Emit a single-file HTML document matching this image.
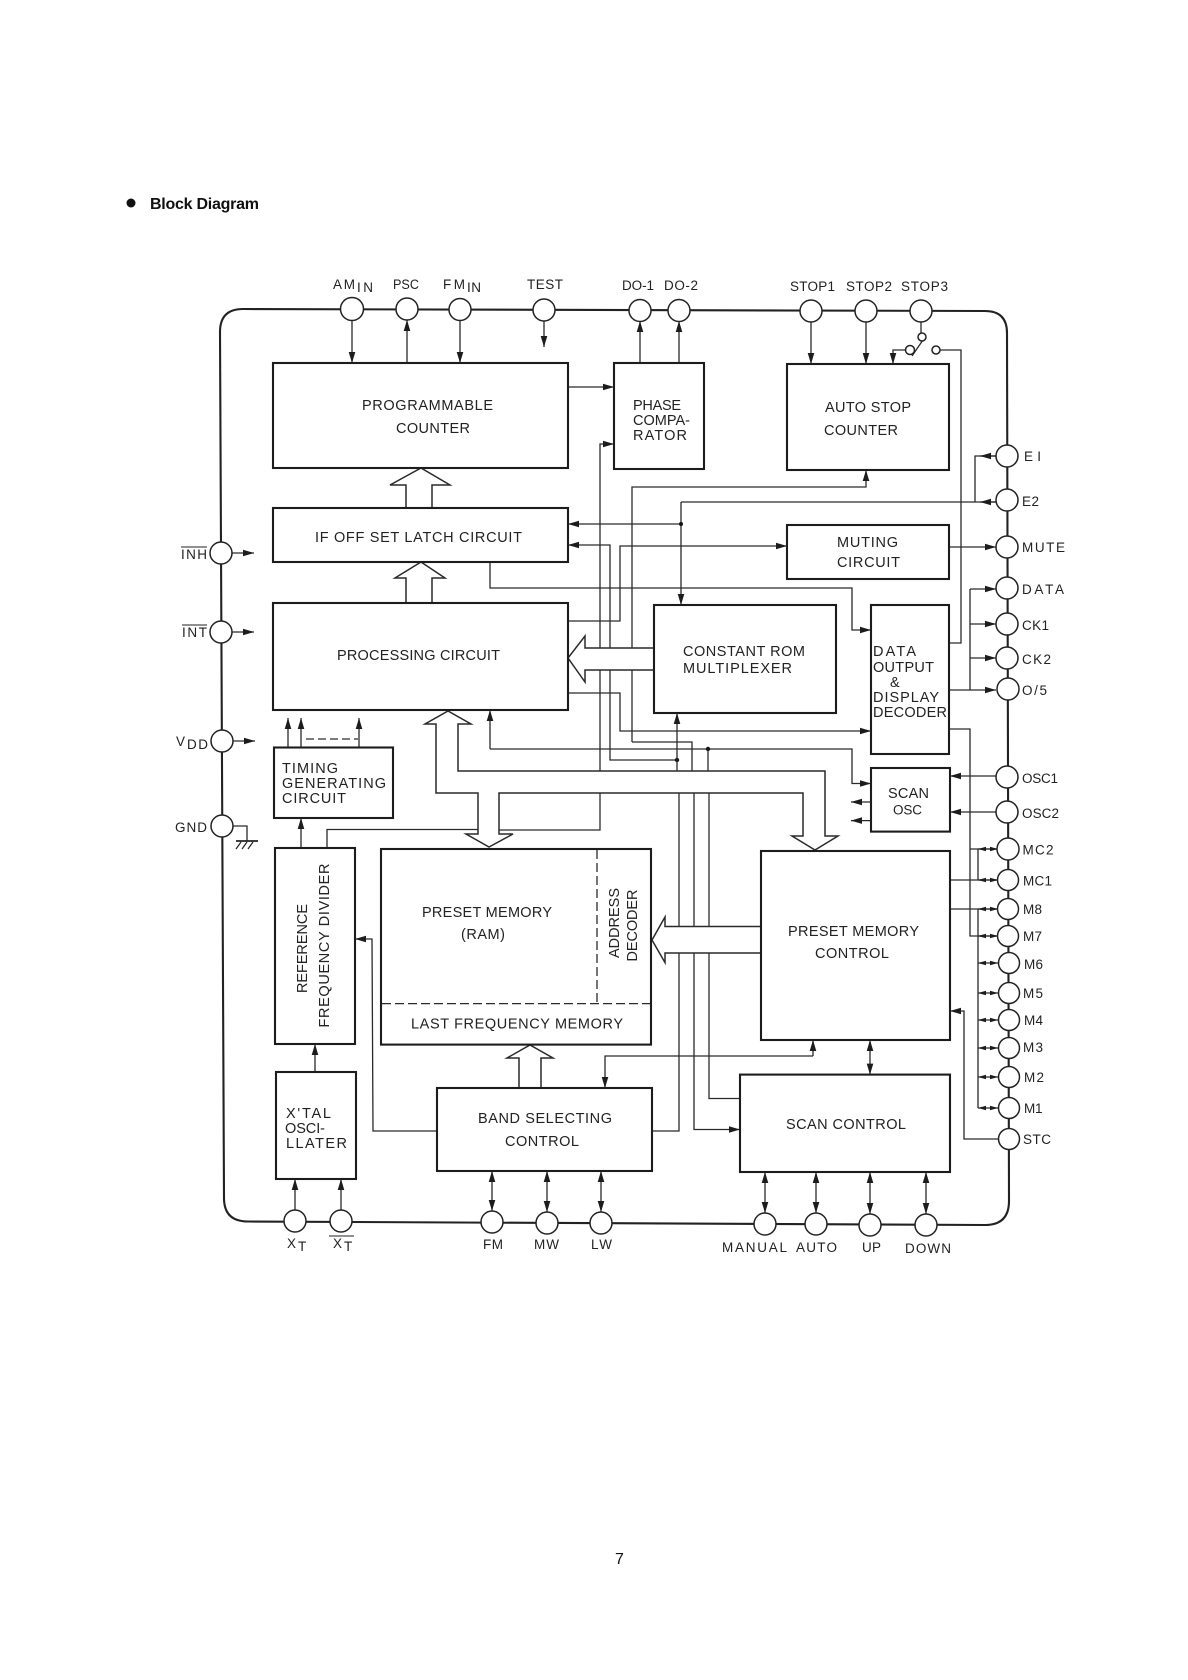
<!DOCTYPE html>
<html><head><meta charset="utf-8"><style>
html,body{margin:0;padding:0;background:#fff}
svg{display:block}
text{font-family:"Liberation Sans",sans-serif;font-size:14.5px;fill:#222}
text.s{font-size:13.5px}
.w{fill:none;stroke:#2a2a2a;stroke-width:1.3}
.a{fill:none;stroke:#2a2a2a;stroke-width:1.3;marker-end:url(#h)}
.d{fill:none;stroke:#2a2a2a;stroke-width:1.3;marker-end:url(#h);marker-start:url(#h)}
.m{fill:none;stroke:#2a2a2a;stroke-width:1.3;marker-end:url(#q);marker-start:url(#q)}
.b{fill:#fff;stroke:#1c1c1c;stroke-width:2.1}
.bus{fill:#fff;stroke:#2a2a2a;stroke-width:1.5;stroke-linejoin:miter}
.p{fill:#fff;stroke:#222;stroke-width:1.5}
</style></head><body>
<svg xmlns="http://www.w3.org/2000/svg" width="1188" height="1680" viewBox="0 0 1188 1680">
<defs>
<marker id="h" markerUnits="userSpaceOnUse" viewBox="0 0 11 7" markerWidth="11" markerHeight="7" refX="11" refY="3.5" orient="auto-start-reverse"><path d="M0 0.2L11 3.500L0 6.800Z" fill="#1c1c1c"/></marker>
<marker id="q" markerUnits="userSpaceOnUse" viewBox="0 0 8 5" markerWidth="8" markerHeight="5" refX="8" refY="2.5" orient="auto-start-reverse"><path d="M0 0.2L8 2.500L0 4.800Z" fill="#1c1c1c"/></marker>
</defs>
<rect width="1188" height="1680" fill="#fff"/>
<circle cx="131" cy="203" r="4.5" fill="#111"/>
<text x="150" y="209" textLength="109" lengthAdjust="spacing" style="font-size:16px;font-weight:bold;fill:#111">Block Diagram</text>
<text x="615" y="1564" style="font-size:16px;fill:#111">7</text>

<!-- chip outline -->
<path d="M224 1198L220 332Q220 309 243 309L985 311Q1007 311 1007 333L1009 1201Q1009 1225 985 1225L248 1221.500Q224 1221.500 224 1198Z" fill="none" stroke="#222" stroke-width="2.1"/>

<!-- pin wires top -->
<path class="a" d="M352 320V363"/><path class="a" d="M407 363V320"/><path class="a" d="M460 320V363"/><path class="a" d="M544 321V347"/>
<path class="a" d="M640 363V321"/><path class="a" d="M679 363V321"/><path class="a" d="M811 322V364"/><path class="a" d="M866 322V364"/>
<path class="w" d="M921 322V333"/>
<path class="a" d="M906 350H893V364"/>
<path class="w" d="M923 340L912 356"/>
<path class="w" d="M940 350H961V643H949"/>
<path class="a" d="M568 387H614"/>

<!-- centre wires -->
<path class="a" d="M600 771V444H614"/>
<path class="w" d="M327 848V829.500H480"/>
<path class="w" d="M497 830H600V793"/>
<path class="w" d="M996 502H681"/>
<path class="a" d="M681 502V605"/>
<path class="a" d="M681 524H568"/>
<circle cx="681" cy="524" r="2" fill="#111"/>
<path class="a" d="M632 742V487H866V470"/>
<path class="w" d="M632 742H692V771"/>
<path class="a" d="M694 793V1129.500H740"/>
<path class="a" d="M490 562V588H852V630H871"/>
<path class="a" d="M677 760H610V545H568"/>
<circle cx="677" cy="760" r="2.2" fill="#111"/>
<path class="a" d="M677 771V713"/>
<path class="w" d="M652 1131H679V793"/>
<path class="a" d="M568 621H620V546H787"/>
<path class="a" d="M568 693H620V731H871"/>
<path class="a" d="M490 749H852V783.500H871"/>
<path class="a" d="M490 749V710"/>
<circle cx="708" cy="749" r="2.2" fill="#111"/>
<path class="w" d="M708 749V771"/>
<path class="w" d="M709 793V1098.500H740"/>

<!-- hollow buses -->
<path class="bus" d="M654 648H585V636L568 658L585 682V670H654"/>
<path class="bus" d="M761 926.500H665V917L652 940L665 962.600V953H761"/>
<path class="bus" d="M458 724V771H825V836H838L815 850L792 836H803V793H499V834H513L489 847L466 834H478V793H436V724H425L448 711L471 724Z"/>
<path class="bus" d="M406 508V485H390L421 468L450 485H432V508"/>
<path class="bus" d="M406 603V578H395L421 562L445 578H432V603"/>
<path class="bus" d="M519 1088V1058H507L530 1045L553 1058H541V1088"/>

<!-- other wires -->
<path class="a" d="M315 1072V1044"/><path class="a" d="M301 848V818"/>
<path class="a" d="M288 747V718"/><path class="a" d="M301 747V718"/><path class="a" d="M359 747V718"/>
<path class="w" stroke-dasharray="8 4" d="M306 739H358"/>
<path class="a" d="M295 1210V1179"/><path class="a" d="M341 1210V1179"/>
<path class="d" d="M492 1171V1211"/><path class="d" d="M547 1171V1212"/><path class="d" d="M601 1171V1212"/>
<path class="d" d="M765 1172V1213"/><path class="d" d="M816 1172V1213"/><path class="d" d="M870 1172V1214"/><path class="d" d="M926 1172V1214"/>
<path class="d" d="M870 1040V1074.600"/>
<path class="a" d="M813 1056V1040"/>
<path class="a" d="M813 1056H605V1088"/>
<path class="a" d="M437 1131H373L372 939H355"/>

<!-- right side wiring -->
<path class="w" d="M996 456H975V502"/><path class="a" d="M996 456H980"/><path class="a" d="M996 502H980"/>
<path class="a" d="M949 547H996"/>
<path class="w" d="M970 589V690"/>
<path class="a" d="M970 589H996"/><path class="a" d="M970 624H996"/><path class="a" d="M970 658H996"/><path class="a" d="M949 690H996"/>
<path class="a" d="M996 776H950"/><path class="a" d="M996 812H950"/>
<path class="a" d="M871 802H851"/><path class="a" d="M871 820.600H851"/>
<path class="w" d="M949 729H970V936H998"/>
<path class="w" d="M978 849V880M978 909V1108"/>
<path class="w" d="M970 849H998M950 880H998M950 909H998"/>
<path class="m" d="M978 849H998"/><path class="m" d="M978 880H998"/><path class="m" d="M978 909H998"/><path class="m" d="M978 936H998"/>
<path class="m" d="M978 963H998"/><path class="m" d="M978 993H998"/><path class="m" d="M978 1020H998"/><path class="m" d="M978 1048H998"/><path class="m" d="M978 1077H998"/><path class="m" d="M978 1108H998"/>
<path class="a" d="M998 1139H964V1011H950"/>

<!-- left stubs -->
<path class="a" d="M232 553H254"/><path class="a" d="M232 632H254"/><path class="a" d="M233 741H255"/>
<path class="w" d="M233 826H247V841"/>
<path d="M236 841H258" stroke="#222" stroke-width="1.8" fill="none"/>
<path d="M241 842L236 849M247 842L242 849M253 842L248 849" stroke="#222" stroke-width="1.2" fill="none"/>

<!-- boxes -->
<rect class="b" x="273" y="363" width="295" height="105"/>
<rect class="b" x="273" y="508" width="295" height="54"/>
<rect class="b" x="273" y="603" width="295" height="107"/>
<rect class="b" x="274" y="747.500" width="119" height="70.500"/>
<rect class="b" x="275" y="848" width="80" height="196"/>
<rect class="b" x="276" y="1072" width="80" height="107"/>
<rect class="b" x="381" y="849" width="270" height="195.600"/>
<rect class="b" x="437" y="1088" width="215" height="83"/>
<rect class="b" x="761" y="851" width="189" height="189"/>
<rect class="b" x="740" y="1074.600" width="210" height="97.400"/>
<rect class="b" x="871" y="768" width="79" height="63.600"/>
<rect class="b" x="871" y="605" width="78" height="149"/>
<rect class="b" x="654" y="605" width="182" height="108"/>
<rect class="b" x="787" y="525" width="162" height="54"/>
<rect class="b" x="787" y="364" width="162" height="106"/>
<rect class="b" x="614" y="363" width="90" height="106"/>
<path class="w" stroke-dasharray="9 4" d="M597 850V1003.600M382 1003.600H650"/>

<!-- pins -->
<g class="p">
<circle cx="352" cy="309" r="11.5"/><circle cx="407" cy="309" r="11"/><circle cx="460" cy="309.500" r="11"/><circle cx="544" cy="310" r="11"/>
<circle cx="640" cy="310.500" r="11"/><circle cx="679" cy="310.500" r="11"/><circle cx="811" cy="311" r="11"/><circle cx="866" cy="311" r="11"/><circle cx="921" cy="311" r="11"/>
<circle cx="1007" cy="456" r="11"/><circle cx="1007" cy="500" r="11"/><circle cx="1007" cy="547" r="11"/><circle cx="1007" cy="588" r="11"/><circle cx="1007" cy="624" r="11"/><circle cx="1007" cy="658" r="11"/><circle cx="1008" cy="689" r="11"/>
<circle cx="1007" cy="777" r="11"/><circle cx="1007" cy="812" r="11"/><circle cx="1008" cy="849" r="11"/><circle cx="1008" cy="880" r="10.500"/><circle cx="1008" cy="909" r="10.500"/><circle cx="1008" cy="936" r="10.500"/><circle cx="1009" cy="963" r="10.500"/><circle cx="1009" cy="993" r="10.500"/><circle cx="1009" cy="1020" r="10.500"/><circle cx="1009" cy="1048" r="10.500"/><circle cx="1009" cy="1077" r="10.500"/><circle cx="1009" cy="1108" r="10.500"/><circle cx="1009" cy="1139" r="10.500"/>
<circle cx="295" cy="1221" r="11"/><circle cx="341" cy="1221" r="11"/><circle cx="492" cy="1222" r="11"/><circle cx="547" cy="1223" r="11"/><circle cx="601" cy="1223" r="11"/><circle cx="765" cy="1224" r="11"/><circle cx="816" cy="1224" r="11"/><circle cx="870" cy="1225" r="11"/><circle cx="926" cy="1225" r="11"/>
<circle cx="221" cy="553" r="11"/><circle cx="221" cy="632" r="11"/><circle cx="222" cy="741" r="11"/><circle cx="222" cy="826" r="11"/>
<circle cx="922" cy="337" r="4"/><circle cx="910" cy="350" r="4.500"/><circle cx="936" cy="350" r="4"/>
</g>

<!-- labels -->
<text class="s" x="333" y="289" textLength="22" lengthAdjust="spacing">AM</text><text class="s" x="357" y="292" textLength="16" lengthAdjust="spacing">IN</text>
<text class="s" x="393" y="289" textLength="26" lengthAdjust="spacingAndGlyphs">PSC</text>
<text class="s" x="443" y="289" textLength="22" lengthAdjust="spacing">FM</text><text class="s" x="467" y="292" textLength="14" lengthAdjust="spacing">IN</text>
<text class="s" x="527" y="289" textLength="36" lengthAdjust="spacing">TEST</text>
<text class="s" x="622" y="290" textLength="32" lengthAdjust="spacing">DO-1</text><text class="s" x="664" y="290" textLength="34" lengthAdjust="spacing">DO-2</text>
<text class="s" x="790" y="291" textLength="45" lengthAdjust="spacing">STOP1</text><text class="s" x="846" y="291" textLength="46" lengthAdjust="spacing">STOP2</text><text class="s" x="901" y="291" textLength="47" lengthAdjust="spacing">STOP3</text>

<text x="362" y="410" textLength="131" lengthAdjust="spacing">PROGRAMMABLE</text><text x="396" y="433" textLength="74" lengthAdjust="spacing">COUNTER</text>
<text x="315" y="542" textLength="207" lengthAdjust="spacing">IF OFF SET LATCH CIRCUIT</text>
<text x="337" y="660" textLength="163" lengthAdjust="spacing">PROCESSING CIRCUIT</text>
<text x="633" y="410" textLength="48" lengthAdjust="spacing">PHASE</text><text x="633" y="425" textLength="57" lengthAdjust="spacing">COMPA-</text><text x="633" y="440" textLength="54" lengthAdjust="spacing">RATOR</text>
<text x="825" y="412" textLength="86" lengthAdjust="spacing">AUTO STOP</text><text x="824" y="435" textLength="74" lengthAdjust="spacing">COUNTER</text>
<text x="837" y="547" textLength="61" lengthAdjust="spacing">MUTING</text><text x="837" y="567" textLength="63" lengthAdjust="spacing">CIRCUIT</text>
<text x="683" y="656" textLength="122" lengthAdjust="spacing">CONSTANT ROM</text><text x="683" y="673" textLength="109" lengthAdjust="spacing">MULTIPLEXER</text>
<text x="873" y="656" textLength="43" lengthAdjust="spacing">DATA</text><text x="873" y="672" textLength="61" lengthAdjust="spacing">OUTPUT</text><text x="890" y="687">&amp;</text><text x="873" y="702" textLength="66" lengthAdjust="spacing">DISPLAY</text><text x="873" y="717" textLength="74" lengthAdjust="spacing">DECODER</text>

<text class="s" x="1024" y="461" textLength="17" lengthAdjust="spacing">E I</text><text class="s" x="1022" y="506" textLength="17" lengthAdjust="spacing">E2</text><text class="s" x="1022" y="552" textLength="43" lengthAdjust="spacing">MUTE</text><text class="s" x="1022" y="594" textLength="42" lengthAdjust="spacing">DATA</text><text class="s" x="1022" y="630" textLength="27" lengthAdjust="spacing">CK1</text><text class="s" x="1022" y="664" textLength="29" lengthAdjust="spacing">CK2</text><text class="s" x="1022" y="695" textLength="25" lengthAdjust="spacing">O/5</text>
<text class="s" x="1022" y="783" textLength="36" lengthAdjust="spacing">OSC1</text><text class="s" x="1022" y="818" textLength="37" lengthAdjust="spacing">OSC2</text><text class="s" x="1022.500" y="854.500" textLength="31" lengthAdjust="spacing">MC2</text><text class="s" x="1023" y="885.500" textLength="29" lengthAdjust="spacing">MC1</text><text class="s" x="1023" y="914" textLength="19" lengthAdjust="spacing">M8</text><text class="s" x="1023" y="941" textLength="19" lengthAdjust="spacing">M7</text><text class="s" x="1024" y="969" textLength="19" lengthAdjust="spacing">M6</text><text class="s" x="1023" y="998" textLength="20" lengthAdjust="spacing">M5</text><text class="s" x="1024" y="1025" textLength="19" lengthAdjust="spacing">M4</text><text class="s" x="1023" y="1052" textLength="20" lengthAdjust="spacing">M3</text><text class="s" x="1024" y="1082" textLength="20" lengthAdjust="spacing">M2</text><text class="s" x="1024" y="1113" textLength="18.500" lengthAdjust="spacing">M1</text><text class="s" x="1023" y="1144" textLength="28" lengthAdjust="spacing">STC</text>

<text x="788" y="936" textLength="131" lengthAdjust="spacing">PRESET MEMORY</text><text x="815" y="958" textLength="74" lengthAdjust="spacing">CONTROL</text>
<text x="888" y="798" textLength="41" lengthAdjust="spacing">SCAN</text><text class="s" x="893" y="814.500" textLength="29" lengthAdjust="spacing">OSC</text>
<text x="786" y="1129" textLength="120" lengthAdjust="spacing">SCAN CONTROL</text>
<text class="s" x="722" y="1252" textLength="65" lengthAdjust="spacing">MANUAL</text><text class="s" x="796" y="1252" textLength="41" lengthAdjust="spacing">AUTO</text><text class="s" x="862" y="1252" textLength="19" lengthAdjust="spacing">UP</text><text class="s" x="905" y="1253" textLength="46" lengthAdjust="spacing">DOWN</text>

<text x="282" y="773" textLength="56" lengthAdjust="spacing">TIMING</text><text x="282" y="788" textLength="104" lengthAdjust="spacing">GENERATING</text><text x="282" y="803" textLength="64" lengthAdjust="spacing">CIRCUIT</text>
<text x="307" y="993" textLength="89" lengthAdjust="spacing" transform="rotate(-90 307 993)">REFERENCE</text>
<text x="329" y="1027.500" textLength="164" lengthAdjust="spacing" transform="rotate(-90 329 1027.500)">FREQUENCY DIVIDER</text>
<text x="619" y="958" textLength="70" lengthAdjust="spacing" transform="rotate(-90 619 958)">ADDRESS</text>
<text x="637" y="961.500" textLength="72" lengthAdjust="spacing" transform="rotate(-90 637 961.500)">DECODER</text>
<text x="422" y="917" textLength="130" lengthAdjust="spacing">PRESET MEMORY</text><text x="461" y="939" textLength="44" lengthAdjust="spacing">(RAM)</text>
<text x="411" y="1028.500" textLength="212" lengthAdjust="spacing">LAST FREQUENCY MEMORY</text>
<text x="286" y="1118" textLength="45" lengthAdjust="spacing">X'TAL</text><text x="285" y="1133" textLength="40" lengthAdjust="spacing">OSCI-</text><text x="286" y="1148" textLength="61" lengthAdjust="spacing">LLATER</text>
<text x="478" y="1123" textLength="134" lengthAdjust="spacing">BAND SELECTING</text><text x="505" y="1146" textLength="74" lengthAdjust="spacing">CONTROL</text>

<text class="s" x="181" y="559" textLength="26" lengthAdjust="spacing">INH</text><text class="s" x="182" y="637" textLength="25" lengthAdjust="spacing">INT</text>
<text class="s" x="176" y="746" textLength="9" lengthAdjust="spacing">V</text><text class="s" x="187" y="749" textLength="21" lengthAdjust="spacing">DD</text>
<text class="s" x="175" y="832" textLength="32" lengthAdjust="spacing">GND</text>
<text class="s" x="287" y="1248" textLength="10" lengthAdjust="spacing">X</text><text class="s" x="298" y="1251" textLength="9" lengthAdjust="spacing">T</text>
<text class="s" x="333" y="1248" textLength="10" lengthAdjust="spacing">X</text><text class="s" x="344" y="1251" textLength="9" lengthAdjust="spacing">T</text>
<text class="s" x="483" y="1249" textLength="20" lengthAdjust="spacing">FM</text><text class="s" x="534" y="1249" textLength="25" lengthAdjust="spacing">MW</text><text class="s" x="591" y="1249" textLength="21" lengthAdjust="spacing">LW</text>
<path d="M181 547H207M182 625H207M329 1236H354" stroke="#222" stroke-width="1.1" fill="none"/>
</svg>
</body></html>
